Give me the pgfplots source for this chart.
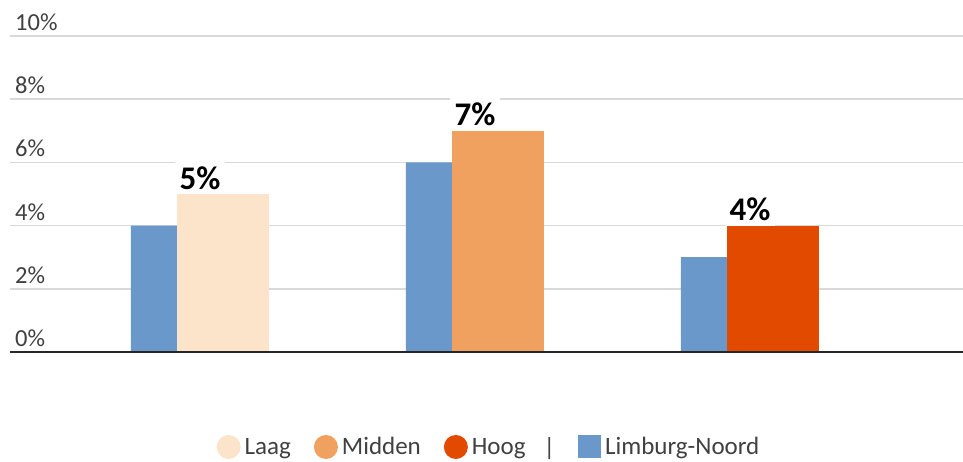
\documentclass[border=0pt]{standalone}
\usepackage{pgfplots}
\pgfplotsset{compat=1.18}
\usepackage{fontspec}
\setmainfont{Carlito}
\definecolor{lnblue}{HTML}{6A98CB}
\definecolor{laag}{HTML}{FCE4CA}
\definecolor{midden}{HTML}{F0A15F}
\definecolor{hoog}{HTML}{E24A00}
\definecolor{txt}{HTML}{404040}
\begin{document}
\begin{tikzpicture}
\useasboundingbox (0,0) rectangle (963pt,461pt);
\begin{axis}[
  at={(10pt,109pt)}, anchor=south west,
  scale only axis, width=953pt, height=316pt,
  xmin=-0.691, xmax=2.775, ymin=0, ymax=10,
  xtick=\empty, ytick={0,2,4,6,8,10},
  axis line style={draw=none},
  major tick length=0pt,
  ymajorgrids, grid style={draw=black!15, line width=1.5pt},
  /pgf/number format/assume math mode=true,
  yticklabel={\pgfmathprintnumber{\tick}\%},
  yticklabel style={anchor=south west, inner sep=0pt, xshift=5pt, yshift=5pt,
    font=\fontsize{24.5}{28}\selectfont, text=txt},
  point meta=y,
  every node near coord/.append style={font=\bfseries\fontsize{33}{36}\selectfont,
    fill=white, inner sep=5pt, anchor=south, yshift=-0.5pt, text=black},
  legend style={draw=none, fill=none, at={(0.5016,-0.3006)}, anchor=center,
    font=\fontsize{25}{29}\selectfont, text=txt, inner sep=0pt,
    nodes={inner sep=0pt},
    /tikz/every odd column/.append style={column sep=4pt},
    /tikz/every even column/.append style={column sep=23pt}},
  legend columns=-1,
]
\addplot[ybar, bar width=0.3345, bar shift=0.0836, fill=laag, draw=none,
  nodes near coords={\pgfmathprintnumber{\pgfplotspointmeta}\%},
  legend image code/.code={\fill[laag] (0pt,0pt) circle (12pt);}]
  coordinates {(0,5)};
\addlegendentry{Laag}
\addplot[ybar, bar width=0.3345, bar shift=0.0836, fill=midden, draw=none,
  nodes near coords={\pgfmathprintnumber{\pgfplotspointmeta}\%},
  legend image code/.code={\fill[midden] (0pt,0pt) circle (12pt);}]
  coordinates {(1,7)};
\addlegendentry{Midden}
\addplot[ybar, bar width=0.3345, bar shift=0.0836, fill=hoog, draw=none,
  nodes near coords={\pgfmathprintnumber{\pgfplotspointmeta}\%},
  legend image code/.code={\fill[hoog] (0pt,0pt) circle (12pt);}]
  coordinates {(2,4)};
\addlegendentry{Hoog}
\addlegendimage{empty legend}
\addlegendentry{\hspace*{-9pt}|}
\addplot[ybar, bar width=0.1673, bar shift=-0.1673, fill=lnblue, draw=none,
  legend image code/.code={\fill[lnblue] (-11.5pt,-11.5pt) rectangle (11.5pt,11.5pt);}]
  coordinates {(0,4) (1,6) (2,3)};
\addlegendentry{Limburg-Noord}
\draw[black!85, line width=1.5pt] (rel axis cs:0,0) -- (rel axis cs:1,0);
\end{axis}
\end{tikzpicture}
\end{document}
